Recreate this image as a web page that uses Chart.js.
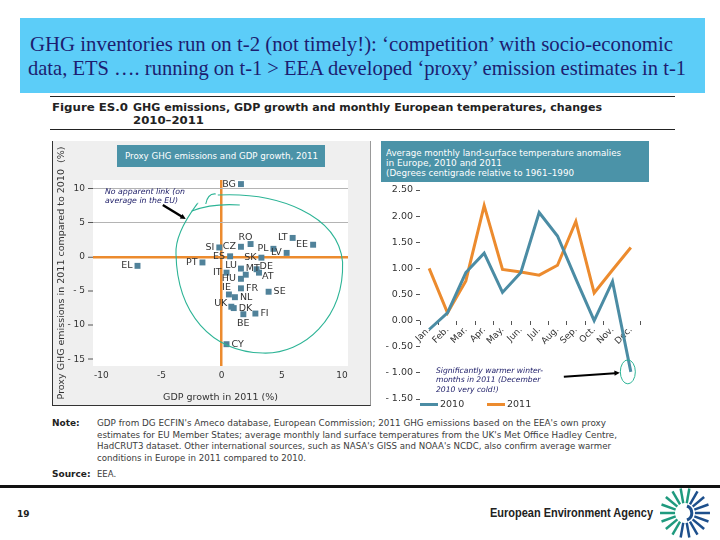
<!DOCTYPE html>
<html><head><meta charset="utf-8">
<script src="https://cdn.jsdelivr.net/npm/chart.js@4.4.1/dist/chart.umd.min.js"></script>
<style>
html,body{margin:0;padding:0;}
body{width:720px;height:540px;position:relative;overflow:hidden;background:#fff;font-family:'DejaVu Sans',sans-serif;}
.abs{position:absolute;white-space:nowrap;}
.title{font-family:'Liberation Serif',serif;font-size:21px;line-height:24px;color:#1d1d70;}
.fig{font-size:10.5px;font-weight:bold;line-height:13px;color:#222;}
.note{font-size:8.5px;line-height:11px;color:#3c3c3c;}
.noteh{font-size:9px;line-height:11px;font-weight:bold;color:#222;}
.anno{font-style:italic;color:#1a1a66;}
</style></head><body>

<!-- slide title -->
<div class="abs" style="left:20px;top:18px;width:685px;height:75px;background:#5ccdf8"></div>
<div class="abs title" data-w="643" style="left:30px;top:32px">GHG inventories run on t-2 (not timely!): ‘competition’ with socio-economic</div>
<div class="abs title" data-w="658" style="left:28px;top:56px">data, ETS …. running on t-1 &gt; EEA developed ‘proxy’ emission estimates in t-1</div>

<!-- figure heading -->
<div class="abs" style="left:50px;top:96px;width:625px;height:1px;background:#222"></div>
<div class="abs fig" data-w="76" style="left:52px;top:101px">Figure ES.0</div>
<div class="abs fig" data-w="469" style="left:133px;top:101px">GHG emissions, GDP growth and monthly European temperatures, changes</div>
<div class="abs fig" data-w="71" style="left:133px;top:114px">2010–2011</div>
<div class="abs" style="left:50px;top:129px;width:625px;height:1px;background:#222"></div>

<!-- scatter panel -->
<div class="abs" style="left:52px;top:141px;width:317px;height:264px;background:#efefef;border-left:1px solid #333;border-bottom:1px solid #333;border-right:1px solid #999"></div>
<div class="abs" style="left:52px;top:140px;width:318px;height:266px"><canvas id="sc"></canvas></div>
<div class="abs" style="left:117px;top:145px;width:208px;height:22px;background:#4b93a8"></div>
<div class="abs" data-w="193" style="left:125px;top:145px;color:#fff;font-size:9.5px;line-height:22px">Proxy GHG emissions and GDP growth, 2011</div>
<div class="abs anno" style="left:105px;top:187px;font-size:7.8px;line-height:9px">No apparent link (on<br>average in the EU)</div>

<!-- line panel -->
<div class="abs" style="left:375px;top:140px;width:305px;height:270px"><canvas id="lc"></canvas></div>
<div class="abs" style="left:381px;top:141px;width:268px;height:41px;background:#4b93a8"></div>
<div class="abs" data-w="235" style="left:386px;top:147.5px;color:#fff;font-size:9px;line-height:10px">Average monthly land-surface temperature anomalies</div>
<div class="abs" data-w="116" style="left:386px;top:157.5px;color:#fff;font-size:9px;line-height:10px">in Europe, 2010 and 2011</div>
<div class="abs" data-w="188" style="left:386px;top:167.5px;color:#fff;font-size:9px;line-height:10px">(Degrees centigrade relative to 1961–1990</div>
<div class="abs anno" style="left:436px;top:366px;font-size:7.6px;line-height:9.3px">Significantly warmer winter-<br>months in 2011 (December<br>2010 very cold!)</div>
<div id="legend"></div>

<!-- notes -->
<div class="abs noteh" style="left:52px;top:418px">Note:</div>
<div class="abs note" data-w="509" style="left:97px;top:418px">GDP from DG ECFIN's Ameco database, European Commission; 2011 GHG emissions based on the EEA's own proxy</div>
<div class="abs note" data-w="520" style="left:97px;top:429.5px">estimates for EU Member States; average monthly land surface temperatures from the UK's Met Office Hadley Centre,</div>
<div class="abs note" data-w="514" style="left:97px;top:441px">HadCRUT3 dataset. Other international sources, such as NASA's GISS and NOAA's NCDC, also confirm average warmer</div>
<div class="abs note" data-w="209" style="left:97px;top:452.5px">conditions in Europe in 2011 compared to 2010.</div>
<div class="abs noteh" style="left:52px;top:469px">Source:</div>
<div class="abs note" style="left:97px;top:469px">EEA.</div>

<!-- footer -->
<div class="abs" style="left:0;top:485px;width:720px;height:3px;background:#111"></div>
<div class="abs" style="left:17px;top:509px;font-size:9px;font-weight:bold;color:#222">19</div>
<div class="abs" data-w="163" style="left:490px;top:506px;font-family:'Liberation Sans Narrow','Liberation Sans',sans-serif;font-weight:bold;font-size:12.5px;color:#222">European Environment Agency</div>
<svg id="logo" class="abs" style="left:657px;top:486px" width="56" height="54" viewBox="-28 -27 56 54"></svg>

<script>
// ---------------- data ----------------
const countries = ['BG','RO','LT','EE','SI','CZ','PL','LV','ES','SK','EL','PT','LU','MT','DE','AT','IT','HU','IE','FR','SE','NL','UK','DK','BE','FI','CY'];
const gdpGrowth = [1.6, 2.4, 5.9, 7.6, -0.2, 1.6, 4.3, 5.4, 0.7, 3.3, -7.0, -1.6, 1.6, 2.0, 2.9, 3.1, 0.4, 1.6, 0.6, 1.6, 3.9, 1.1, 0.8, 1.0, 1.8, 2.8, 0.4];
const ghgChange = [10.7, 1.9, 2.8, 1.8, 1.4, 1.5, 1.2, 0.6, 0.1, -0.1, -1.3, -0.8, -1.7, -2.6, -1.8, -2.3, -2.3, -3.2, -5.5, -4.6, -5.1, -5.9, -7.3, -7.5, -8.4, -8.3, -12.8];
const scatterXTicks = [-10, -5, 0, 5, 10];
const scatterYTicks = [10, 5, 0, -5, -10, -15];

const months = ['Jan.','Feb.','Mar.','Apr.','May.','Jun.','Jul.','Aug.','Sep.','Oct.','Nov.','Dec.'];
const years = ['2010','2011'];
const temp2010 = [-0.17, 0.15, 0.92, 1.29, 0.54, 0.92, 2.07, 1.62, 0.8, 0.0, 0.75, -0.98];
const temp2011 = [1.0, 0.15, 0.76, 2.2, 0.98, 0.93, 0.87, 1.06, 1.9, 0.53, 0.97, 1.4];
const tempTicks = [2.5, 2, 1.5, 1, 0.5, 0, -0.5, -1, -1.5];

// ---------------- styles ----------------
const labelSide = {BG:'l',RO:'tl',LT:'l',EE:'l',SI:'l',CZ:'l',PL:'l',LV:'l',ES:'l',SK:'l',EL:'l',PT:'l',
  LU:'ul',MT:'tr',DE:'ur',AT:'br',IT:'l',HU:'l',IE:'tl',FR:'r',SE:'r',NL:'r',UK:'ul',DK:'r',BE:'b',FI:'r',CY:'r'};
const sideStyle = {
  l:{a:'right',dx:-5,dy:0}, r:{a:'left',dx:5,dy:0}, tl:{a:'right',dx:2,dy:-7},
  ul:{a:'right',dx:-4,dy:-3}, tr:{a:'left',dx:0,dy:-6}, ur:{a:'left',dx:3,dy:-3},
  br:{a:'left',dx:3,dy:4}, b:{a:'center',dx:0,dy:9}
};
const ORANGE = '#ec8b2e', BLUE = '#4b8ca4', TEAL = '#2db496', MARK = '#50829a';
Chart.defaults.font.family = "'DejaVu Sans', sans-serif";

function arrow(ctx, x1, y1, x2, y2, w){
  const ang = Math.atan2(y2-y1, x2-x1), h = 6;
  ctx.save(); ctx.strokeStyle = '#000'; ctx.fillStyle = '#000'; ctx.lineWidth = w;
  ctx.beginPath(); ctx.moveTo(x1,y1); ctx.lineTo(x2 - Math.cos(ang)*h*0.8, y2 - Math.sin(ang)*h*0.8); ctx.stroke();
  ctx.beginPath(); ctx.moveTo(x2,y2);
  ctx.lineTo(x2 - h*Math.cos(ang-0.45), y2 - h*Math.sin(ang-0.45));
  ctx.lineTo(x2 - h*Math.cos(ang+0.45), y2 - h*Math.sin(ang+0.45));
  ctx.closePath(); ctx.fill(); ctx.restore();
}

const scatterAnno = {
  id:'scatterAnno',
  beforeDraw(chart){
    const a = chart.chartArea, ctx = chart.ctx;
    ctx.save(); ctx.fillStyle = '#fff'; ctx.fillRect(a.left, a.top, a.right-a.left, a.bottom-a.top); ctx.restore();
  },
  afterDatasetsDraw(chart){
    const ctx = chart.ctx, xs = chart.scales.x, ys = chart.scales.y;
    const meta = chart.getDatasetMeta(0);
    ctx.save(); ctx.font = "9.5px 'DejaVu Sans'"; ctx.fillStyle = '#333'; ctx.textBaseline = 'middle';
    meta.data.forEach((pt, i) => {
      const st = sideStyle[labelSide[countries[i]]];
      ctx.textAlign = st.a; ctx.fillText(countries[i], pt.x + st.dx, pt.y + st.dy);
    });
    ctx.restore();
    const cx = xs.getPixelForValue(3.0), cy = ys.getPixelForValue(-2.5);
    const rx = xs.getPixelForValue(10.05) - cx, ry = ys.getPixelForValue(-14.1) - cy;
    ctx.save(); ctx.strokeStyle = TEAL; ctx.lineWidth = 1.1;
    ctx.beginPath();
    ctx.moveTo(cx - 40, cy - ry);
    ctx.bezierCurveTo(cx + 20, cy - ry - 3, cx + rx*0.95, cy - ry*0.75, cx + rx, cy - 12);
    ctx.bezierCurveTo(cx + rx*1.02, cy + ry*0.55, cx + rx*0.55, cy + ry*1.02, cx + 5, cy + ry);
    ctx.bezierCurveTo(cx - rx*0.55, cy + ry*0.98, cx - rx*0.95, cy + ry*0.5, cx - rx + 3, cy - 20);
    ctx.bezierCurveTo(cx - rx*0.98, cy - ry*0.55, cx - rx*0.7, cy - ry*0.9, cx - 60, cy - ry + 8);
    ctx.stroke();
    ctx.beginPath();
    ctx.moveTo(cx - 52, cy - ry + 9); ctx.quadraticCurveTo(cx - 50, cy - ry - 2, cx - 42, cy - ry - 1);
    ctx.moveTo(cx - 66, cy - ry + 16); ctx.quadraticCurveTo(cx - 45, cy - ry + 8, cx - 18, cy - ry + 10);
    ctx.stroke(); ctx.restore();
    arrow(ctx, cx - 95, cy - 69, cx - 72, cy - 55, 2.4);
  }
};

const lineAnno = {
  id:'lineAnno',
  afterDatasetsDraw(chart){
    const ctx = chart.ctx, pt = chart.getDatasetMeta(0).data[11];
    ctx.save(); ctx.strokeStyle = TEAL; ctx.lineWidth = 1;
    ctx.beginPath(); ctx.ellipse(pt.x - 3, pt.y, 7.5, 12, 0, 0, Math.PI*2); ctx.stroke(); ctx.restore();
    arrow(ctx, pt.x - 67, pt.y + 5, pt.x - 11, pt.y + 1, 2);
  }
};

const fmtY = v => v < 0 ? '- ' + Math.abs(v) : String(v);

new Chart(document.getElementById('sc'), {
  type:'scatter',
  data:{datasets:[{data: countries.map((c,i)=>({x:gdpGrowth[i], y:ghgChange[i]})),
    pointStyle:'rect', pointRadius:4.2, pointHoverRadius:4.2, backgroundColor:MARK, borderWidth:0}]},
  options:{
    animation:false, responsive:true, maintainAspectRatio:false,
    layout:{padding:{top:40,right:22,left:0,bottom:0}},
    plugins:{legend:{display:false}, tooltip:{enabled:false}},
    scales:{
      x:{type:'linear', min:-10.7, max:10.5,
        afterBuildTicks:s=>{ s.ticks = scatterXTicks.map(v=>({value:v})); },
        afterFit:s=>{ s.height = 40; },
        border:{display:false},
        grid:{drawTicks:false, color:c=>c.tick && c.tick.value===0 ? ORANGE : 'rgba(0,0,0,0)',
              lineWidth:c=>c.tick && c.tick.value===0 ? 2.5 : 0},
        ticks:{padding:4, font:{size:9}, color:'#333', callback:v=>String(v)},
        title:{display:true, text:'GDP growth in 2011 (%)', font:{size:9.5}, color:'#333', padding:{top:0,bottom:3}}
      },
      y:{type:'linear', min:-16, max:11.3,
        afterBuildTicks:s=>{ s.ticks = scatterYTicks.map(v=>({value:v})); },
        afterFit:s=>{ s.width = 41; },
        border:{display:false},
        grid:{color:c=>{ const v=c.tick&&c.tick.value; return v===0 ? ORANGE : (v>0 ? '#b4b4b4' : 'rgba(0,0,0,0)'); },
              lineWidth:c=>{ const v=c.tick&&c.tick.value; return v===0 ? 2.5 : (v>0 ? 1 : 0); },
              tickColor:'#555', tickWidth:1, tickLength:5},
        ticks:{padding:3, font:{size:9}, color:'#333', callback:v=>fmtY(v)},
        title:{display:true, text:'Proxy GHG emissions in 2011 compared to 2010  (%)', font:{size:9.5}, color:'#333', padding:{top:4,bottom:0}}
      }
    }
  },
  plugins:[scatterAnno]
});

new Chart(document.getElementById('lc'), {
  type:'line',
  data:{labels:months, datasets:[
    {label:years[0], data:temp2010, borderColor:BLUE, borderWidth:3, pointRadius:0, tension:0, fill:false},
    {label:years[1], data:temp2011, borderColor:ORANGE, borderWidth:3, pointRadius:0, tension:0, fill:false}
  ]},
  options:{
    animation:false, responsive:true, maintainAspectRatio:false,
    layout:{padding:{top:50,right:40,bottom:11,left:0}},
    plugins:{legend:{display:false}, tooltip:{enabled:false}},
    scales:{
      x:{position:{y:0}, offset:true, border:{display:false},
        grid:{offset:true, drawOnChartArea:false, color:'#555', tickColor:'#555', tickLength:4},
        ticks:{minRotation:45, maxRotation:45, padding:0, font:{size:9}, color:'#333', autoSkip:false}},
      y:{min:-1.5, max:2.5,
        afterBuildTicks:s=>{ s.ticks = tempTicks.map(v=>({value:v})); },
        afterFit:s=>{ s.width = 45; },
        border:{display:false},
        grid:{drawOnChartArea:false, color:'#555', tickColor:'#555', tickLength:4},
        ticks:{padding:3, font:{size:9.5}, color:'#333', callback:v=> v<0 ? '- '+Math.abs(v).toFixed(2) : v.toFixed(2)}}
    }
  },
  plugins:[lineAnno]
});

// legend for the line chart
(function(){
  const lg = document.getElementById('legend');
  const cols = [BLUE, ORANGE], lefts = [420, 487];
  years.forEach((y,i)=>{
    lg.insertAdjacentHTML('beforeend',
      `<div class="abs" style="left:${lefts[i]}px;top:403px;width:18px;height:3px;background:${cols[i]}"></div>`+
      `<div class="abs" style="left:${lefts[i]+20}px;top:398px;font-size:9.5px;line-height:12px;color:#333">${y}</div>`);
  });
})();

// EEA logo
(function(){
  const svg = document.getElementById('logo'); let s = '';
  for(let i=0;i<18;i++){
    const deg = i*20, a = deg*Math.PI/180, w = 7*Math.PI/180;
    const p = (r,t)=>`${(r*Math.cos(t)).toFixed(2)},${(r*Math.sin(t)).toFixed(2)}`;
    const col = (deg>=110 && deg<=290) ? '#1f9a7e' : '#1d4f8c';
    s += `<polygon points="${p(10,a-w)} ${p(25,a-0.05)} ${p(25,a+0.05)} ${p(10,a+w)}" fill="${col}"/>`;
  }
  s += `<circle r="9.5" fill="#fff"/><path d="M 2 -7 A 7.5 7.5 0 0 1 2 7" stroke="#1d4f8c" stroke-width="3" fill="none"/>`;
  svg.innerHTML = s;
})();

function fitAll(){
  document.querySelectorAll('[data-w]').forEach(el=>{
    el.style.transform = '';
    const w = el.getBoundingClientRect().width, t = +el.dataset.w;
    el.style.transformOrigin = 'left center';
    el.style.transform = `scaleX(${t/w})`;
  });
}
fitAll();
if (document.fonts && document.fonts.ready) document.fonts.ready.then(fitAll);
</script>
</body></html>
